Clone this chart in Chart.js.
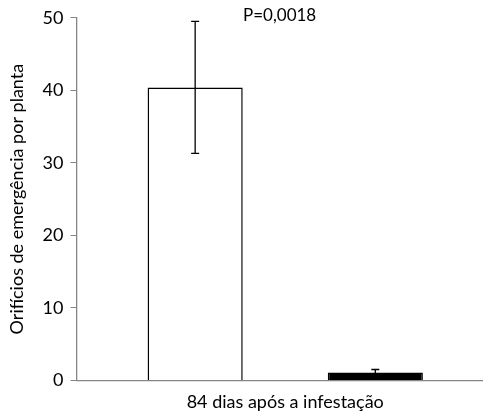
<!DOCTYPE html>
<html>
<head>
<meta charset="utf-8">
<script src="https://cdn.jsdelivr.net/npm/chart.js@4"></script>
<style>
  html, body { margin: 0; padding: 0; background: #fff; overflow: hidden; }
  #wrap { width: 494px; height: 414px; }
</style>
</head>
<body>
<div id="wrap"><canvas id="c"></canvas></div>
<script>
// data
var categories = ['84 dias após a infestação'];
var seriesNames = ['Controle', 'Tratamento'];
var means = [40.4, 1.1];
var errs = [9.1, 0.4];
var yTicks = [0, 10, 20, 30, 40, 50];
var pText = 'P=0,0018';

var FONT = 'Lato, "Noto Sans", sans-serif';

// error bars drawn from the scale
var errorBars = {
    id: 'errorBars',
    afterDatasetsDraw: function(chart) {
        var ctx = chart.ctx;
        var y = chart.scales.y;
        ctx.save();
        ctx.strokeStyle = '#000';
        ctx.lineWidth = 1.3;
        for (var d = 0; d < chart.data.datasets.length; d++) {
            var meta = chart.getDatasetMeta(d);
            var bar = meta.data[0];
            var v = means[d];
            var top = y.getPixelForValue(v + errs[d]);
            var bot = y.getPixelForValue(v - errs[d]);
            ctx.beginPath();
            ctx.moveTo(bar.x, top);
            ctx.lineTo(bar.x, bot);
            ctx.moveTo(bar.x - 4, top);
            ctx.lineTo(bar.x + 4, top);
            ctx.moveTo(bar.x - 4, bot);
            ctx.lineTo(bar.x + 4, bot);
            ctx.stroke();
        }
        // p value label
        ctx.fillStyle = '#000';
        ctx.font = '17px ' + FONT;
        ctx.textAlign = 'left';
        ctx.textBaseline = 'middle';
        ctx.fillText(pText, 243, 16);
        ctx.restore();
    }
};

var ctx = document.getElementById('c').getContext('2d');
var chart = new Chart(ctx, {
    type: 'bar',
    data: {
        labels: categories,
        datasets: [{
            label: seriesNames[0],
            data: [means[0]],
            backgroundColor: '#ffffff',
            borderColor: '#000000',
            borderWidth: 1.5
        }, {
            label: seriesNames[1],
            data: [means[1]],
            backgroundColor: '#000000',
            borderColor: '#000000',
            borderWidth: 1.5
        }]
    },
    options: {
        responsive: true,
        maintainAspectRatio: false,
        animation: false,
        devicePixelRatio: 1,
        layout: { padding: { top: 17, right: 0, left: 6, bottom: 1 } },
        plugins: {
            legend: { display: false },
            tooltip: { enabled: false }
        },
        datasets: {
            bar: { categoryPercentage: 0.863, barPercentage: 0.528 }
        },
        scales: {
            x: {
                grid: { display: false },
                border: { display: true, color: '#868686', width: 1.3 },
                ticks: { display: false },
                title: {
                    display: true,
                    text: categories[0],
                    color: '#000',
                    font: { family: FONT, size: 18 },
                    padding: { top: 3, bottom: 0 }
                }
            },
            y: {
                min: 0,
                max: 50,
                afterBuildTicks: function(axis) {
                    axis.ticks = yTicks.map(function(v) { return { value: v }; });
                },
                grid: {
                    drawOnChartArea: false,
                    drawTicks: true,
                    tickLength: 6,
                    color: '#868686'
                },
                border: { display: true, color: '#868686', width: 1.3 },
                ticks: {
                    color: '#000',
                    font: { family: FONT, size: 18 },
                    padding: 7
                },
                title: {
                    display: true,
                    text: 'Orifícios de emergência por planta',
                    color: '#000',
                    font: { family: FONT, size: 18 },
                    padding: { top: 0, bottom: 8 }
                }
            }
        }
    },
    plugins: [errorBars]
});
</script>
</body>
</html>
